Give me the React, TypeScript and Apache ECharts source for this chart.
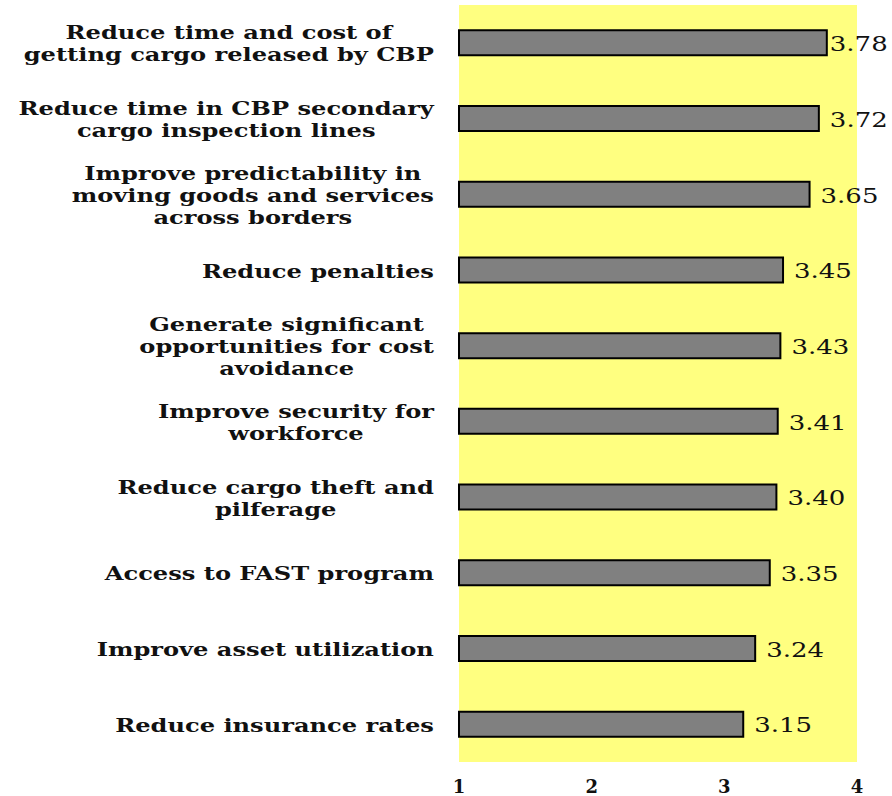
import React, { useEffect, useRef } from "react";
import * as echarts from "echarts";

// Benefit statements, top to bottom
const categories: string[] = [
  "Reduce time and cost of\ngetting cargo released by CBP",
  "Reduce time in CBP secondary\ncargo inspection lines",
  "Improve predictability in\nmoving goods and services\nacross borders",
  "Reduce penalties",
  "Generate significant\nopportunities for cost\navoidance",
  "Improve security for\nworkforce",
  "Reduce cargo theft and\npilferage",
  "Access to FAST program",
  "Improve asset utilization",
  "Reduce insurance rates",
];

// Mean ratings
const ratings: number[] = [3.78, 3.72, 3.65, 3.45, 3.43, 3.41, 3.4, 3.35, 3.24, 3.15];

const xTicks: number[] = [1, 2, 3, 4];

const SERIF = "'DejaVu Serif', 'Liberation Serif', serif";

export default function App() {
  const ref = useRef<HTMLDivElement>(null);

  useEffect(() => {
    if (!ref.current) return;
    const chart = echarts.init(ref.current, undefined, { renderer: "svg" });

    chart.setOption({
      animation: false,
      backgroundColor: "#ffffff",
      grid: {
        left: 459,
        right: 35,
        top: 5,
        bottom: 34,
        show: true,
        backgroundColor: "#ffff80",
        borderWidth: 0,
      },
      xAxis: {
        type: "value",
        min: xTicks[0],
        max: xTicks[xTicks.length - 1],
        interval: 1,
        axisLine: { show: false },
        axisTick: { show: false },
        splitLine: { show: false },
        axisLabel: {
          margin: 15,
          fontFamily: SERIF,
          fontWeight: "bold",
          fontSize: 18,
          color: "#111",
        },
      },
      yAxis: {
        type: "category",
        data: categories,
        inverse: true,
        axisLine: { show: false },
        axisTick: { show: false },
        splitLine: { show: false },
        axisLabel: { show: false },
      },
      series: [
        {
          type: "bar",
          data: ratings,
          barWidth: 27,
          itemStyle: {
            color: "#808080",
            borderColor: "#000",
            borderWidth: 2,
          },
        },
      ],
    });

    // Category captions and value labels, placed with the axes' own scales and
    // widened horizontally to the wide serif look of the printed chart.
    const xStart = chart.convertToPixel({ xAxisIndex: 0 }, xTicks[0]) as number;
    const graphics: any[] = [];
    categories.forEach((cat, i) => {
      const y = chart.convertToPixel({ yAxisIndex: 0 }, i) as number;
      graphics.push({
        type: "text",
        x: xStart - 25,
        y: y + 1,
        scaleX: 1.27,
        style: {
          text: cat
            .split("\n")
            .map((l) => `{c|${l}}`)
            .join("\n"),
          rich: {
            c: {
              align: "center",
              fontFamily: SERIF,
              fontWeight: "bold",
              fontSize: 19,
              lineHeight: 22,
              fill: "#111",
            },
          },
          align: "right",
          verticalAlign: "middle",
        },
      });
      const v = ratings[i];
      const xEnd = chart.convertToPixel({ xAxisIndex: 0 }, v) as number;
      graphics.push({
        type: "text",
        x: xEnd + (i === 0 ? 2 : 10),
        y: y + 1,
        scaleX: 1.3,
        style: {
          text: v.toFixed(2),
          fontFamily: SERIF,
          fontSize: 20,
          fill: "#111",
          align: "left",
          verticalAlign: "middle",
        },
      });
    });
    chart.setOption({ graphic: graphics });

    return () => chart.dispose();
  }, []);

  return (
    <div
      ref={ref}
      style={{ position: "absolute", left: 0, top: 0, width: 892, height: 796 }}
    />
  );
}
